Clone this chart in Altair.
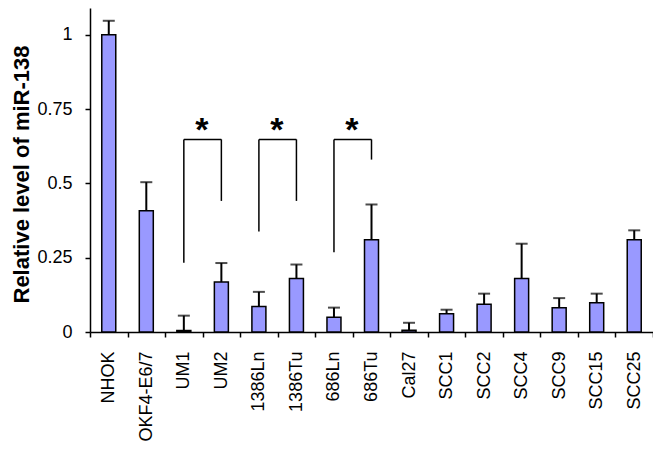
import altair as alt
import pandas as pd

cats = ["NHOK", "OKF4-E6/7", "UM1", "UM2", "1386Ln", "1386Tu", "686Ln", "686Tu",
        "Cal27", "SCC1", "SCC2", "SCC4", "SCC9", "SCC15", "SCC25"]
vals = [1.0, 0.408, 0.005, 0.168, 0.086, 0.18, 0.05, 0.31,
        0.006, 0.061, 0.093, 0.18, 0.082, 0.098, 0.31]
errs = [0.047, 0.096, 0.05, 0.064, 0.049, 0.047, 0.032, 0.119,
        0.025, 0.014, 0.036, 0.117, 0.032, 0.031, 0.032]

br_left = ["UM1", "1386Ln", "686Ln"]
br_right = ["UM2", "1386Tu", "686Tu"]
br_top = [0.648, 0.648, 0.648]
br_left_bottom = [0.233, 0.338, 0.268]
br_right_bottom = [0.441, 0.441, 0.58]
star_text = ["*", "*", "*"]

FONT = "Liberation Sans"

df = pd.DataFrame({"cat": cats, "val": vals, "err": errs})
df["top"] = df["val"] + df["err"]

br = pd.DataFrame({"left": br_left, "right": br_right, "top": br_top,
                   "lb": br_left_bottom, "rb": br_right_bottom, "star": star_text})

xscale = alt.Scale(domain=cats, paddingInner=0, paddingOuter=0)
yscale = alt.Scale(domain=[0, 1.09], nice=False)

x_axis = alt.Axis(title=None, labelAngle=-90, labelPadding=14, tickBand="extent")
y_axis = alt.Axis(title="Relative level of miR-138", values=[0, 0.25, 0.5, 0.75, 1],
                  labelExpr="datum.value == 0 ? '0' : datum.value == 1 ? '1' : toString(datum.value)",
                  labelPadding=13,
                  titleX=-69, titleY=166, titleAngle=-90,
                  titleAlign="center", titleBaseline="middle")

X = alt.X("cat:N", scale=xscale, axis=x_axis, sort=cats)
Xn = alt.X("cat:N", scale=xscale, sort=cats, axis=x_axis)

base = alt.Chart(df)

bars = base.mark_bar(size=14, color="#9999ff", stroke="black", strokeWidth=1.5).encode(
    x=X, y=alt.Y("val:Q", scale=yscale, axis=y_axis))
err_rule = base.mark_rule(color="black", strokeWidth=2).encode(
    x=Xn, y=alt.Y("val:Q", scale=yscale, axis=y_axis), y2="top:Q")
err_cap = base.mark_tick(color="black", size=12, thickness=2, orient="horizontal").encode(
    x=Xn, y=alt.Y("top:Q", scale=yscale, axis=y_axis))

bb = alt.Chart(br)
h_line = bb.mark_rule(color="black", strokeWidth=1.5).encode(
    x=alt.X("left:N", scale=xscale, axis=x_axis), x2="right:N",
    y=alt.Y("top:Q", scale=yscale, axis=y_axis))
l_leg = bb.mark_rule(color="black", strokeWidth=1.5).encode(
    x=alt.X("left:N", scale=xscale, axis=x_axis),
    y=alt.Y("top:Q", scale=yscale, axis=y_axis), y2="lb:Q")
r_leg = bb.mark_rule(color="black", strokeWidth=1.5).encode(
    x=alt.X("right:N", scale=xscale, axis=x_axis),
    y=alt.Y("top:Q", scale=yscale, axis=y_axis), y2="rb:Q")
stars = bb.mark_text(font=FONT, fontSize=34, fontWeight="bold", color="black",
                     baseline="alphabetic", align="center", dx=18, dy=2).encode(
    x=alt.X("left:N", scale=xscale, axis=x_axis),
    y=alt.Y("top:Q", scale=yscale, axis=y_axis), text="star:N")

chart = alt.layer(bars, err_rule, err_cap, h_line, l_leg, r_leg, stars).properties(
    width=563, height=324,
    autosize=alt.AutoSizeParams(type="none"),
    padding={"left": 82, "top": 0, "right": 0, "bottom": 110},
).configure_view(stroke=None).configure_axis(
    labelFont=FONT, labelFontSize=18, labelColor="black",
    tickSize=5, tickColor="black", tickWidth=1.5,
    domainColor="black", domainWidth=1.5, grid=False,
    titleFont=FONT, titleFontSize=22, titleFontWeight="bold", titleColor="black",
)

chart.save("out.html", embed_options={"renderer": "svg", "actions": False})
